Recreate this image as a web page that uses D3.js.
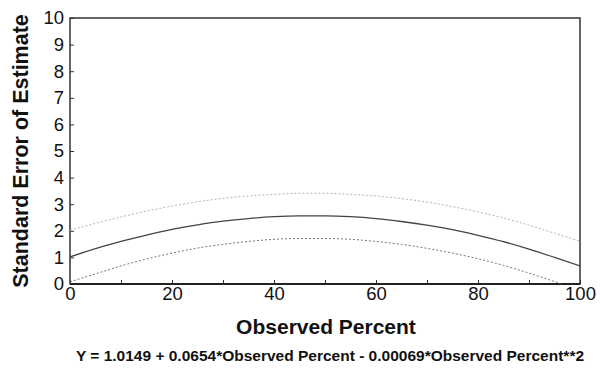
<!DOCTYPE html>
<html>
<head>
<meta charset="utf-8">
<script src="https://cdn.jsdelivr.net/npm/d3@7"></script>
<style>
  body { margin: 0; background: #fff; }
  svg { display: block; font-family: Arial, "Liberation Sans", sans-serif; }
</style>
</head>
<body>
<div id="chart"></div>
<script>
// values
var observedPercent = [0, 5, 10, 15, 20, 25, 30, 35, 40, 45, 50, 55, 60, 65, 70, 75, 80, 85, 90, 95, 100];
var fitted = [1.02, 1.33, 1.60, 1.84, 2.05, 2.22, 2.36, 2.46, 2.53, 2.56, 2.56, 2.53, 2.46, 2.35, 2.21, 2.04, 1.83, 1.59, 1.31, 1.00, 0.68];
var upperBand = [2.02, 2.28, 2.52, 2.74, 2.93, 3.09, 3.22, 3.31, 3.37, 3.41, 3.41, 3.37, 3.31, 3.21, 3.08, 2.91, 2.71, 2.48, 2.21, 1.91, 1.61];
var lowerBand = [0.08, 0.38, 0.68, 0.94, 1.16, 1.35, 1.49, 1.60, 1.68, 1.71, 1.71, 1.68, 1.60, 1.49, 1.34, 1.16, 0.95, 0.70, 0.41, 0.09, -0.29];
var xTicks = [0, 10, 20, 30, 40, 50, 60, 70, 80, 90, 100];
var xTickLabels = [0, 20, 40, 60, 80, 100];
var yTicks = [0, 1, 2, 3, 4, 5, 6, 7, 8, 9, 10];

var chart = {
  width: 600,
  height: 369,
  margin: { left: 70, right: 20, top: 18, bottom: 85 }
};
var w = chart.width - chart.margin.left - chart.margin.right;
var h = chart.height - chart.margin.top - chart.margin.bottom;

var svg = d3.select("#chart")
  .append("svg")
  .attr("width", chart.width)
  .attr("height", chart.height);

var g = svg.append("g")
  .attr("transform", "translate(" + chart.margin.left + "," + chart.margin.top + ")");

var x = d3.scaleLinear().domain([0, 100]).range([0, w]);
var y = d3.scaleLinear().domain([0, 10]).range([h, 0]);

g.append("clipPath").attr("id", "plotClip")
  .append("rect").attr("width", w).attr("height", h);

// x axis, ticks point inward
var xAxis = g.append("g")
  .attr("transform", "translate(0," + h + ")")
  .call(d3.axisBottom(x).tickValues(xTicks).tickSizeInner(-4).tickSizeOuter(0)
    .tickFormat(function (d) { return xTickLabels.indexOf(d) >= 0 ? d : ""; }));
xAxis.selectAll("text").attr("y", 3).attr("dy", "0.71em")
  .style("font-size", "18.5px").attr("fill", "#111");

// y axis
var yAxis = g.append("g")
  .call(d3.axisLeft(y).tickValues(yTicks).tickSizeInner(-4).tickSizeOuter(0));
yAxis.selectAll("text").attr("x", -6).style("font-size", "18.5px").attr("fill", "#111");

[xAxis, yAxis].forEach(function (a) {
  a.select(".domain").remove();
  a.selectAll("line").attr("stroke", "#333").attr("stroke-width", 1);
});

// frame
g.append("rect")
  .attr("width", w).attr("height", h)
  .attr("fill", "none").attr("stroke", "#333").attr("stroke-width", 1.5);
g.append("line")
  .attr("x1", 0).attr("x2", w).attr("y1", h).attr("y2", h)
  .attr("stroke", "#222").attr("stroke-width", 2);

function makeLine(vals) {
  return d3.line()
    .x(function (d, i) { return x(observedPercent[i]); })
    .y(function (d) { return y(d); })
    .curve(d3.curveMonotoneX)(vals);
}

var lines = g.append("g").attr("clip-path", "url(#plotClip)");
lines.append("path").attr("d", makeLine(upperBand))
  .attr("fill", "none").attr("stroke", "#b5b5b5").attr("stroke-width", 1)
  .attr("stroke-dasharray", "2,2");
lines.append("path").attr("d", makeLine(lowerBand))
  .attr("fill", "none").attr("stroke", "#777").attr("stroke-width", 1)
  .attr("stroke-dasharray", "2,2");
lines.append("path").attr("d", makeLine(fitted))
  .attr("fill", "none").attr("stroke", "#444").attr("stroke-width", 1.3);

// Label for y axis
svg.append("text")
  .attr("transform", "rotate(-90)")
  .attr("x", -(chart.margin.top + h / 2))
  .attr("y", 28)
  .attr("text-anchor", "middle")
  .style("font-size", "21.5px").style("font-weight", "bold")
  .attr("fill", "#111")
  .text("Standard Error of Estimate");

// x axis title
svg.append("text")
  .attr("x", chart.margin.left + w / 2 + 1)
  .attr("y", 334)
  .attr("text-anchor", "middle")
  .style("font-size", "21px").style("font-weight", "bold")
  .attr("fill", "#111")
  .text("Observed Percent");

svg.append("text")
  .attr("x", chart.margin.left + w / 2 + 5)
  .attr("y", 361)
  .attr("text-anchor", "middle")
  .style("font-size", "15.5px").style("font-weight", "bold")
  .attr("fill", "#111")
  .text("Y = 1.0149 + 0.0654*Observed Percent - 0.00069*Observed Percent**2");
</script>
</body>
</html>
